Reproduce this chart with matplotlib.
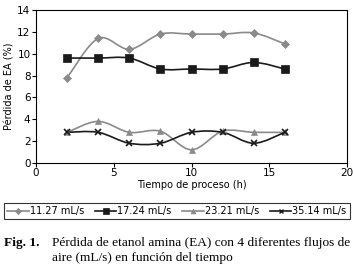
import numpy as np
import matplotlib.pyplot as plt
from matplotlib.path import Path
from matplotlib.patches import PathPatch

tiempo = [2, 4, 6, 8, 10, 12, 14, 16]
flujo_1127 = [7.8, 11.4, 10.4, 11.8, 11.8, 11.8, 11.9, 10.9]
flujo_1724 = [9.6, 9.6, 9.6, 8.6, 8.6, 8.6, 9.2, 8.6]
flujo_2321 = [2.8, 3.8, 2.8, 2.9, 1.2, 2.9, 2.8, 2.8]
flujo_3514 = [2.8, 2.8, 1.8, 1.8, 2.8, 2.8, 1.8, 2.8]
etiquetas = ['11.27 mL/s', '17.24 mL/s', '23.21 mL/s', '35.14 mL/s']


def smooth_path(x, y):
    # Catmull-Rom as cubic bezier segments (like Excel smoothed lines)
    x = np.asarray(x, float)
    y = np.asarray(y, float)
    n = len(x)
    verts = [(x[0], y[0])]
    codes = [Path.MOVETO]
    for i in range(n - 1):
        p0 = (x[max(i - 1, 0)], y[max(i - 1, 0)])
        p1 = (x[i], y[i])
        p2 = (x[i + 1], y[i + 1])
        p3 = (x[min(i + 2, n - 1)], y[min(i + 2, n - 1)])
        c1 = (p1[0] + (p2[0] - p0[0]) / 6, p1[1] + (p2[1] - p0[1]) / 6)
        c2 = (p2[0] - (p3[0] - p1[0]) / 6, p2[1] - (p3[1] - p1[1]) / 6)
        verts += [c1, c2, p2]
        codes += [Path.CURVE4] * 3
    return Path(verts, codes)


fig = plt.figure(figsize=(3.53, 2.64), dpi=100)
ax = fig.add_axes([0.102, 0.383, 0.881, 0.579])

series = [
    (flujo_1127, '#8a8a8a', 'D', 4.5),
    (flujo_1724, '#1a1a1a', 's', 6),
    (flujo_2321, '#8a8a8a', '^', 5),
    (flujo_3514, '#1a1a1a', 'x', 5),
]
for (vals, col, mk, ms), lab in zip(series, etiquetas):
    ax.add_patch(PathPatch(smooth_path(tiempo, vals), fill=False, edgecolor=col, lw=1.2))
    ax.plot(tiempo, vals, linestyle='None', color=col, marker=mk, ms=ms,
            markeredgewidth=1.2 if mk == 'x' else 0.5)

ax.set_xlim(0, 20)
ax.set_ylim(0, 14)
ax.set_xticks([0, 5, 10, 15, 20])
ax.set_yticks(range(0, 15, 2))
ax.tick_params(labelsize=7.5, length=3, direction='out', pad=1)
ax.set_xlabel('Tiempo de proceso (h)', fontsize=7, labelpad=1)
ax.set_ylabel('Pérdida de EA (%)', fontsize=7, labelpad=2)
for s in ax.spines.values():
    s.set_linewidth(0.8)

leg_handles = []
for (vals, col, mk, ms), lab in zip(series, etiquetas):
    lh, = ax.plot([], [], color=col, marker=mk, ms=ms * 0.7, lw=1.2,
                  markeredgewidth=1.0 if mk == 'x' else 0.5)
    leg_handles.append(lh)
leg = fig.legend(leg_handles, etiquetas, loc='center', ncol=4, mode='expand',
                 bbox_to_anchor=(0.011, 0.167, 0.98, 0.068),
                 fontsize=7, frameon=True, fancybox=False, edgecolor='black',
                 handlelength=2.2, handletextpad=0.1, columnspacing=0.5,
                 borderpad=0.35, borderaxespad=0)
leg.get_frame().set_linewidth(0.8)

serif = ['Liberation Serif', 'DejaVu Serif']
fig.text(0.012, 0.068, 'Fig. 1.', fontsize=9.6, fontweight='bold', family=serif)
fig.text(0.147, 0.068, 'Pérdida de etanol amina (EA) con 4 diferentes flujos de',
         fontsize=9.6, family=serif)
fig.text(0.147, 0.012, 'aire (mL/s) en función del tiempo', fontsize=9.6, family=serif)

fig.savefig('out.png', dpi=100)
